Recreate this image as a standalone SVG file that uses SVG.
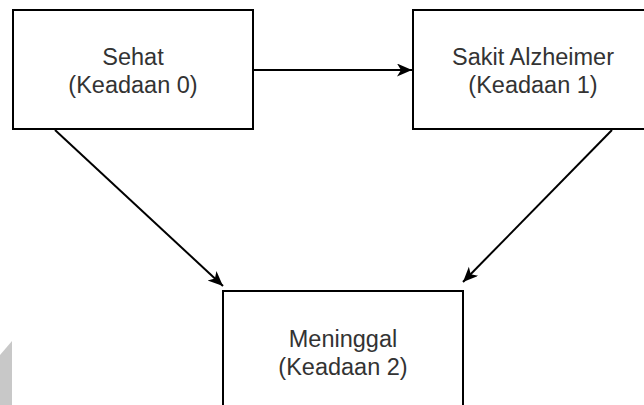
<svg xmlns="http://www.w3.org/2000/svg" width="644" height="405" viewBox="0 0 644 405">
  <style>
    .box { fill: #ffffff; stroke: #000000; stroke-width: 2; }
    .lbl { font-family: "Liberation Sans", Arial, sans-serif; font-size: 23.5px; fill: #333333; text-anchor: middle; }
    .edge { fill: none; stroke: #000000; stroke-width: 2; }
  </style>
  <defs>
    <marker id="arrow" markerUnits="userSpaceOnUse" markerWidth="16" markerHeight="14" refX="15" refY="6.5" orient="auto">
      <path d="M0,0 L15,6.5 L0,13 L4,6.5 Z" fill="#000000"/>
    </marker>
  </defs>
  <rect width="644" height="405" fill="#ffffff"/>
  <polygon points="0,355 12,341 12,405 0,405" fill="#c8c8c8"/>
  <g id="connectors">
    <line class="edge" x1="253" y1="70" x2="412" y2="70" marker-end="url(#arrow)"/>
    <line class="edge" x1="55" y1="130" x2="223" y2="286" marker-end="url(#arrow)"/>
    <line class="edge" x1="612" y1="130" x2="463" y2="282" marker-end="url(#arrow)"/>
  </g>
  <g id="node-sehat">
    <rect class="box" x="13" y="10" width="240" height="119"/>
    <text class="lbl" x="133" y="65">Sehat</text>
    <text class="lbl" x="133" y="93">(Keadaan 0)</text>
  </g>
  <g id="node-alzheimer">
    <rect class="box" x="413" y="10" width="240" height="119"/>
    <text class="lbl" x="533" y="65">Sakit Alzheimer</text>
    <text class="lbl" x="533" y="93">(Keadaan 1)</text>
  </g>
  <g id="node-meninggal">
    <rect class="box" x="223" y="291" width="240" height="120"/>
    <text class="lbl" x="343" y="347">Meninggal</text>
    <text class="lbl" x="343" y="375">(Keadaan 2)</text>
  </g>
</svg>
